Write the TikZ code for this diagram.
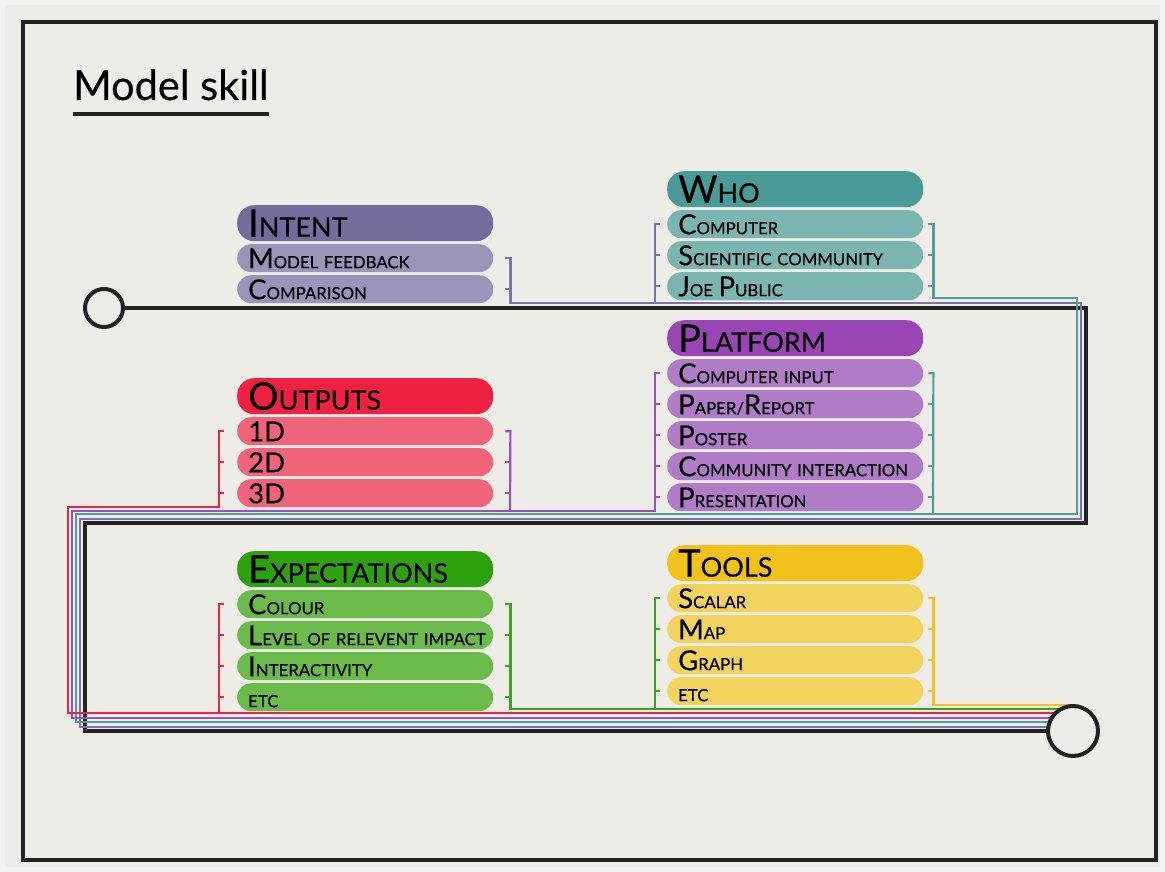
\documentclass[tikz,border=0pt]{standalone}
\usepackage{fontspec}
\setmainfont{Lato}[UprightFeatures={FakeBold=0.35}]
\usetikzlibrary{positioning}

\definecolor{paper}{HTML}{EDECE7}
\definecolor{rim}{HTML}{F4F3F0}
\definecolor{ink}{HTML}{222222}
\definecolor{intentA}{HTML}{746C9C}
\definecolor{intentB}{HTML}{9A94B9}
\definecolor{intentL}{HTML}{7B73A5}
\definecolor{whoA}{HTML}{4A9A98}
\definecolor{whoB}{HTML}{7BB5B2}
\definecolor{whoL}{HTML}{4E9E9A}
\definecolor{platA}{HTML}{9A45B4}
\definecolor{platB}{HTML}{B07BC7}
\definecolor{platL}{HTML}{9B52B8}
\definecolor{outA}{HTML}{EF2142}
\definecolor{outB}{HTML}{F06479}
\definecolor{outL}{HTML}{E8264B}
\definecolor{expA}{HTML}{2EA10F}
\definecolor{expB}{HTML}{6ABB4A}
\definecolor{expL}{HTML}{36A51A}
\definecolor{toolA}{HTML}{F2C21C}
\definecolor{toolB}{HTML}{F1D35E}
\definecolor{toolL}{HTML}{F2C31D}

%big first letters of the small caps
\newcommand{\hcap}[1]{{\fontsize{38}{38}\selectfont #1}}
\newcommand{\icap}[1]{{\fontsize{27.5}{27.5}\selectfont #1}}

\tikzset{
	hdr/.style={rectangle, rounded corners=17pt, anchor=north west, minimum height=36pt,
		text width=234pt, inner xsep=11pt, inner ysep=0pt, align=left,
		text height=27pt, text depth=0pt, font=\fontsize{27}{27}\selectfont},
	itm/.style={rectangle, rounded corners=14pt, anchor=north west, minimum height=28pt,
		text width=234pt, inner xsep=11pt, inner ysep=0pt, align=left,
		text height=20pt, text depth=0pt, font=\fontsize{16.8}{16.8}\selectfont,
		execute at begin node=\hbox\bgroup, execute at end node=\egroup},
	ln/.style={line width=2.2pt},
	lnint/.style={ln, intentL},
	lnwho/.style={ln, whoL},
	lnplat/.style={ln, platL},
	lnout/.style={ln, outL},
	lnexp/.style={ln, expL},
	lntool/.style={ln, toolL},
	track/.style={line width=4pt, ink},
	stop/.style={circle, draw=ink, line width=4pt, fill=paper, inner sep=0pt}
}

\begin{document}
\begin{tikzpicture}[x=1pt, y=-1pt]
	\useasboundingbox (0,0) rectangle (1165,872);
	\fill[rim] (0,0) rectangle (1165,872);
	\fill[paper] (5,5) rectangle (1160,867);
	\draw[line width=3.5pt, ink] (23,22) rectangle (1156,860);
	
	%Title
	\node[anchor=base west, inner sep=0pt, font=\fontsize{41.5}{41.5}\selectfont] (title) at (73,100) {Model skill};
	\draw[line width=4pt, ink] ([yshift=-14pt]title.base west) -- ([yshift=-14pt]title.base east);
	
	%Intent
	\def\x{237}
	\node[hdr, fill=intentA] (int) at (\x,205) {\hcap{I}NTENT};
	\node[itm, fill=intentB] (int1) at (\x,244) {\icap{M}ODEL FEEDBACK};
	\node[itm, fill=intentB] (int2) at (\x,275) {\icap{C}OMPARISON};
	
	%Outputs
	\node[hdr, fill=outA] (out) at (\x,378) {\hcap{O}UTPUTS};
	\node[itm, fill=outB] (out1) at (\x,417) {\icap{1D}};
	\node[itm, fill=outB] (out2) at (\x,448) {\icap{2D}};
	\node[itm, fill=outB] (out3) at (\x,479) {\icap{3D}};
	
	%Expectations
	\node[hdr, fill=expA] (exp) at (\x,551) {\hcap{E}XPECTATIONS};
	\node[itm, fill=expB] (exp1) at (\x,590) {\icap{C}OLOUR};
	\node[itm, fill=expB] (exp2) at (\x,621) {\icap{L}EVEL OF RELEVENT IMPACT};
	\node[itm, fill=expB] (exp3) at (\x,652) {\icap{I}NTERACTIVITY};
	\node[itm, fill=expB] (exp4) at (\x,683) {ETC};
	
	%Who
	\def\x{667}
	\node[hdr, fill=whoA] (who) at (\x,171) {\hcap{W}HO};
	\node[itm, fill=whoB] (who1) at (\x,210) {\icap{C}OMPUTER};
	\node[itm, fill=whoB] (who2) at (\x,241) {\icap{S}CIENTIFIC COMMUNITY};
	\node[itm, fill=whoB] (who3) at (\x,272) {\icap{J}OE \icap{P}UBLIC};
	
	%Platform
	\node[hdr, fill=platA] (plat) at (\x,320) {\hcap{P}LATFORM};
	\node[itm, fill=platB] (plat1) at (\x,359) {\icap{C}OMPUTER INPUT};
	\node[itm, fill=platB] (plat2) at (\x,390) {\icap{P}APER/\icap{R}EPORT};
	\node[itm, fill=platB] (plat3) at (\x,421) {\icap{P}OSTER};
	\node[itm, fill=platB] (plat4) at (\x,452) {\icap{C}OMMUNITY INTERACTION};
	\node[itm, fill=platB] (plat5) at (\x,483) {\icap{P}RESENTATION};
	
	%Tools
	\node[hdr, fill=toolA] (tool) at (\x,545) {\hcap{T}OOLS};
	\node[itm, fill=toolB] (tool1) at (\x,584) {\icap{S}CALAR};
	\node[itm, fill=toolB] (tool2) at (\x,615) {\icap{M}AP};
	\node[itm, fill=toolB] (tool3) at (\x,646) {\icap{G}RAPH};
	\node[itm, fill=toolB] (tool4) at (\x,677) {ETC};
	
	%Main track
	\node[stop, minimum size=38pt] (startc) at (104,308) {};
	\draw[track] (startc.east) -- (1086,308) -- (1086,523) -- (85,523) -- (85,731) -- (1073,731);
	
	%Intent line
	\draw[lnint] ([xshift=12pt]int1.east) -- ++(5,0) |- (1081,303) -- (1081,519) -- (80,519) -- (80,727) -- (1073,727);
	\draw[lnint] ([xshift=12pt]int2.east) -- ++(5,0);
	\draw[lnint] ([xshift=-7pt]who1.west) -- ++(-5,0) -- (655,303);
	\foreach \n in {who2,who3}
		\draw[lnint] ([xshift=-7pt]\n.west) -- ++(-5,0);
	
	%Who line
	\draw[lnwho] ([xshift=5pt]who1.east) -- ++(5,0) |- (1077,298) -- (1077,514) -- (76,514) -- (76,722) -- (1073,722);
	\draw[lnwho] ([xshift=5pt]plat1.east) -- ++(5,0) -- (933,514);
	\foreach \n in {who2,who3,plat2,plat3,plat4,plat5}
		\draw[lnwho] ([xshift=5pt]\n.east) -- ++(5,0);
	
	%Platform line
	\draw[lnplat] ([xshift=-7pt]plat1.west) -- ++(-5,0) |- (72,511) -- (72,718) -- (1073,718);
	\draw[lnplat] ([xshift=12pt]out1.east) -- ++(5,0) -- (510,511);
	\foreach \n in {plat2,plat3,plat4,plat5}
		\draw[lnplat] ([xshift=-7pt]\n.west) -- ++(-5,0);
	\foreach \n in {out2,out3}
		\draw[lnplat] ([xshift=12pt]\n.east) -- ++(5,0);
	
	%Outputs line
	\draw[lnout] ([xshift=-13pt]out1.west) -- ++(-5,0) |- (68,507) -- (68,713) -- (1073,713);
	\draw[lnout] ([xshift=-13pt]exp1.west) -- ++(-5,0) -- (219,713);
	\foreach \n in {out2,out3,exp2,exp3,exp4}
		\draw[lnout] ([xshift=-13pt]\n.west) -- ++(-5,0);
	
	%Expectations line
	\draw[lnexp] ([xshift=12pt]exp1.east) -- ++(5,0) |- (1073,709);
	\draw[lnexp] ([xshift=-7pt]tool1.west) -- ++(-5,0) -- (655,709);
	\foreach \n in {exp2,exp3,exp4}
		\draw[lnexp] ([xshift=12pt]\n.east) -- ++(5,0);
	\foreach \n in {tool2,tool3,tool4}
		\draw[lnexp] ([xshift=-7pt]\n.west) -- ++(-5,0);
	
	%Tools line
	\draw[lntool] ([xshift=5pt]tool1.east) -- ++(5,0) |- (1073,705);
	\foreach \n in {tool2,tool3,tool4}
		\draw[lntool] ([xshift=5pt]\n.east) -- ++(5,0);
	
	%End stop
	\node[stop, minimum size=50pt] (endc) at (1073,731) {};
\end{tikzpicture}
\end{document}
